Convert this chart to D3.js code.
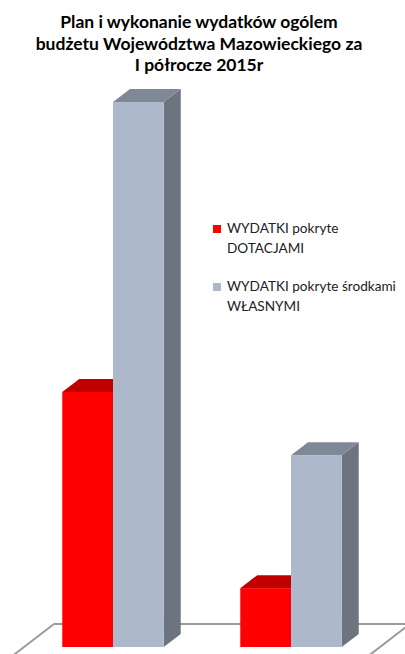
<!DOCTYPE html>
<html>
<head>
<meta charset="utf-8">
<script src="https://cdn.jsdelivr.net/npm/d3@7"></script>
<style>
  body { margin: 0; background: #fff; }
  text { font-family: Lato, "Open Sans", sans-serif; }
</style>
</head>
<body>
<div id="chart"></div>
<script>
var width = 405;
var height = 654;

// dane (mln zł)
var kategorie = ["Plan", "Wykonanie"];
var serie = ["WYDATKI pokryte DOTACJAMI", "WYDATKI pokryte środkami WŁASNYMI"];
var dotacje = [1170, 270];
var wlasne = [2500, 880];
var tytul = ["Plan i wykonanie wydatków ogólem", "budżetu Województwa Mazowieckiego za", "I półrocze 2015r"];
var legenda = [["WYDATKI pokryte", "DOTACJAMI"], ["WYDATKI pokryte środkami", "WŁASNYMI"]];

var kolory = [
  { front: "#ff0000", top: "#c00000", side: "#a00000" },
  { front: "#adb8ca", top: "#7f8996", side: "#6d7480" }
];

// głębokość 3D
var dx = 17, dy = 13;

var svg = d3.select("#chart")
  .append("svg")
  .attr("width", width)
  .attr("height", height);

var x = d3.scaleBand()
  .domain(kategorie)
  .range([24, 380])
  .paddingInner(0.43)
  .paddingOuter(0.215);

var xs = d3.scaleBand()
  .domain(serie)
  .range([0, x.bandwidth()]);

var y = d3.scaleLinear()
  .domain([0, 2500])
  .range([647, 102]);

// podłoga
var podloga = svg.append("g");
var fy0 = y(0);
podloga.append("path")
  .attr("d", "M" + (x.range()[0] - 13) + "," + (fy0 + 10) +
             "L" + (x.range()[0] + 30) + "," + (fy0 - 23) +
             "L" + (x.range()[1] + 30) + "," + (fy0 - 23) +
             "L" + (x.range()[1] - 13) + "," + (fy0 + 10))
  .attr("fill", "none")
  .attr("stroke", "#9c9c9c")
  .attr("stroke-width", 2);

// słupki
var dane = [];
kategorie.forEach(function(k, i) {
  dane.push({ kat: k, seria: serie[0], v: dotacje[i], c: kolory[0] });
  dane.push({ kat: k, seria: serie[1], v: wlasne[i], c: kolory[1] });
});

var slupki = svg.append("g");
dane.forEach(function(d) {
  var x0 = x(d.kat) + xs(d.seria);
  var x1 = x0 + xs.bandwidth();
  var yt = y(d.v);
  var yb = y(0);
  var g = slupki.append("g");
  // bok
  g.append("path")
    .attr("d", "M" + x1 + "," + yt + "L" + (x1 + dx) + "," + (yt - dy) +
               "L" + (x1 + dx) + "," + (yb - dy) + "L" + x1 + "," + yb + "Z")
    .attr("fill", d.c.side);
  // góra
  g.append("path")
    .attr("d", "M" + x0 + "," + yt + "L" + (x0 + dx) + "," + (yt - dy) +
               "L" + (x1 + dx) + "," + (yt - dy) + "L" + x1 + "," + yt + "Z")
    .attr("fill", d.c.top);
  // przód
  g.append("rect")
    .attr("x", x0)
    .attr("y", yt)
    .attr("width", xs.bandwidth())
    .attr("height", yb - yt)
    .attr("fill", d.c.front);
});

// tytuł
var t = svg.append("text")
  .attr("text-anchor", "middle")
  .attr("font-weight", "bold")
  .attr("font-size", 17.5)
  .attr("fill", "#000");
tytul.forEach(function(s, i) {
  t.append("tspan")
    .attr("x", 199)
    .attr("y", 28 + i * 21.5)
    .text(s);
});

// legenda
var leg = svg.append("g");
legenda.forEach(function(linie, i) {
  var ly = 233 + i * 58;
  leg.append("rect")
    .attr("x", 213)
    .attr("y", ly - 8)
    .attr("width", 8)
    .attr("height", 8)
    .attr("fill", kolory[i].front);
  var tx = leg.append("text")
    .attr("font-size", 13.6)
    .attr("fill", "#222");
  linie.forEach(function(s, j) {
    tx.append("tspan")
      .attr("x", 227)
      .attr("y", ly + j * 19.5)
      .text(s);
  });
});
</script>
</body>
</html>
